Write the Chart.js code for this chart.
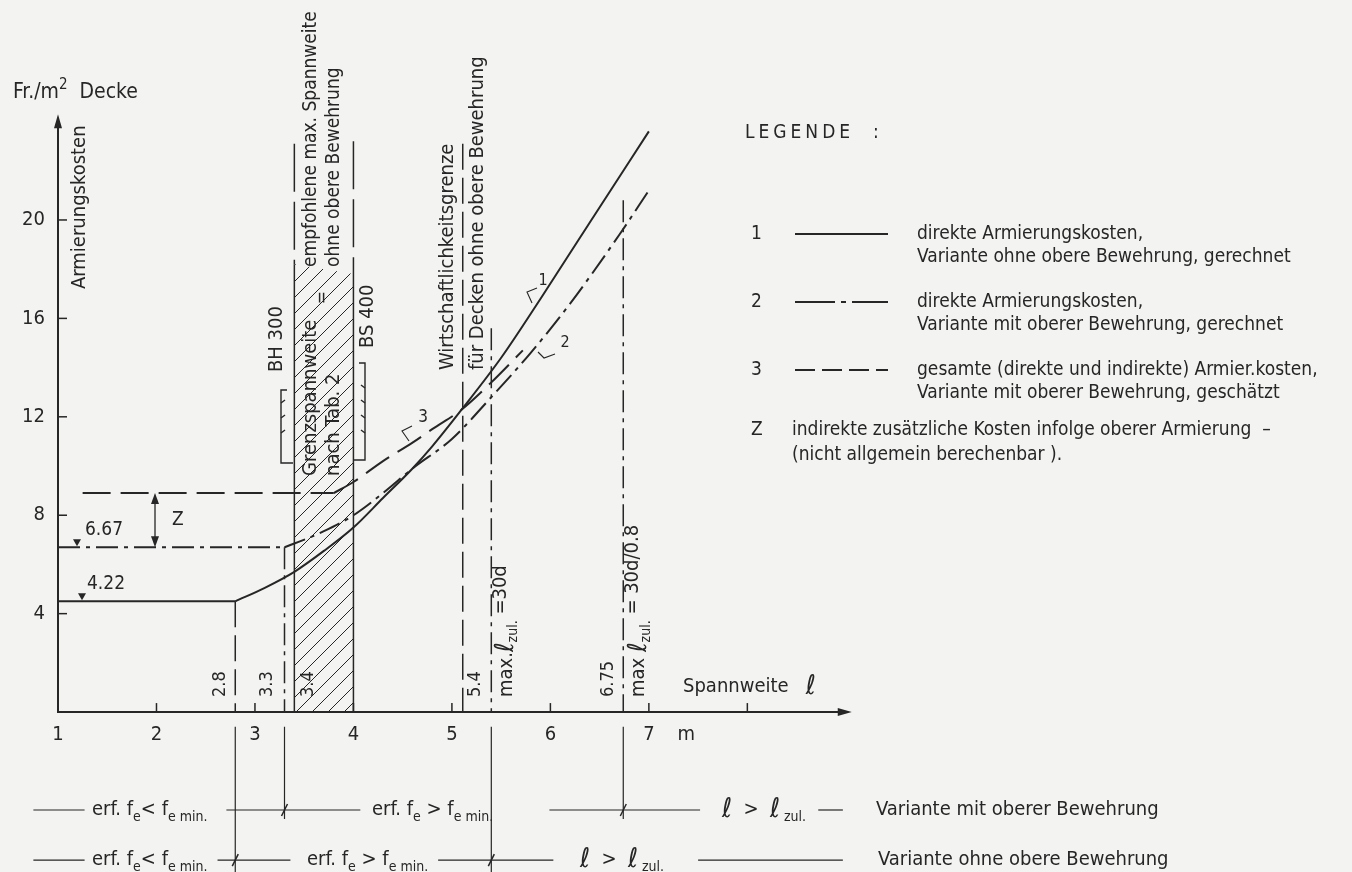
<!DOCTYPE html>
<html>
<head>
<meta charset="utf-8">
<title>Armierungskosten</title>
<script src="https://cdn.jsdelivr.net/npm/chart.js@4.4.1/dist/chart.umd.min.js"></script>
<style>
  html, body { margin: 0; padding: 0; background: #f3f3f1; }
  #wrap { width: 1352px; height: 872px; position: relative; }
</style>
</head>
<body>
<div id="wrap"><canvas id="chart"></canvas></div>
<script>
// ---- values ----
var xTicks = [1, 2, 3, 4, 5, 6, 7, 8];
var xTickLabels = ['1', '2', '3', '4', '5', '6', '7', ''];
var yTicks = [4, 8, 12, 16, 20];

// curve 1: direkte Kosten, ohne obere Bewehrung (solid)
var curve1X = [2.8, 3.1, 3.4, 3.7, 4.0, 4.3, 4.6, 4.8, 5.1, 5.5, 5.9, 6.4, 7.0];
var curve1Y = [4.5, 5.05, 5.7, 6.55, 7.5, 8.7, 9.9, 10.8, 12.3, 14.4, 16.8, 19.9, 23.6];
// curve 2: direkte Kosten, mit oberer Bewehrung (dash-dot)
var curve2X = [3.3, 3.4, 3.7, 4.0, 4.3, 4.6, 5.0, 5.4, 5.8, 6.2, 6.7, 7.0];
var curve2Y = [6.7, 6.85, 7.35, 8.0, 8.9, 9.9, 11.1, 12.8, 14.6, 16.6, 19.4, 21.2];
// curve 3: gesamte Kosten, geschaetzt (dashed)
var curve3X = [3.8, 4.0, 4.3, 4.6, 4.8, 5.1, 5.4, 5.72];
var curve3Y = [8.9, 9.35, 10.2, 10.95, 11.5, 12.3, 13.4, 14.7];

// flat parts of the three curves
var flatStart = [1, 1, 1.25];
var flatEnd = [2.8, 3.3, 3.8];
var flatLevel = [4.5, 6.7, 8.9];
var flatLabel = ['4.22', '6.67', ''];

// vertical marks on the span axis
var markX = [2.8, 3.3, 3.4, 4.0, 5.11, 5.4, 6.74];
var markTop = [4.5, 6.7, 23.1, 23.2, 23.1, 15.6, 20.8];
var markLabel = ['2.8', '3.3', '3.4', '', '5.4', '', '6.75'];
var markBelow = [-6.5, -4.35, null, null, null, -6.5, -4.35];

// hatched zone Grenzspannweite
var hatchX = [3.4, 4.0];
var hatchTop = [18.2, 17.8];

// the two rows under the axis
var rowLevel = [-3.98, -6.02];
var row1Segs = [[0.75, 1.27], [2.71, 4.07], [5.99, 7.52], [8.72, 8.97]];
var row2Segs = [[0.75, 1.27], [2.62, 3.36], [4.86, 6.03], [7.5, 8.97]];
var row1Cuts = [3.3, 6.74];
var row2Cuts = [2.8, 5.4];

var yAxisTop = 24.3;
var xAxisEnd = 9.06;

var INK = '#262626';
var FONT = '"DejaVu Sans Condensed", "Liberation Sans Narrow", "DejaVu Sans", sans-serif';
var DASH = { solid: [], dashDot: [22, 6, 4, 6], dashed: [28, 10], longDash: [26, 8], edge: [48, 10] };

function pts(xs, ys) {
  return xs.map(function (x, i) { return { x: x, y: ys[i] }; });
}

function line(data, dash, width, extra) {
  var ds = {
    data: data, showLine: true, borderColor: INK, borderWidth: width || 1.5,
    borderDash: dash, pointRadius: 0, fill: false, tension: 0
  };
  for (var k in extra) ds[k] = extra[k];
  return ds;
}

function makeHatch() {
  var s = 16;
  var cv = document.createElement('canvas');
  cv.width = s; cv.height = s;
  var g = cv.getContext('2d');
  g.strokeStyle = INK; g.lineWidth = 1;
  g.beginPath();
  g.moveTo(0, s); g.lineTo(s, 0);
  g.moveTo(-2, 2); g.lineTo(2, -2);
  g.moveTo(s - 2, s + 2); g.lineTo(s + 2, s - 2);
  g.stroke();
  return g.createPattern(cv, 'repeat');
}

// ---- datasets ----
var datasets = [];
datasets.push(line(pts(curve1X, curve1Y), DASH.solid, 2, { cubicInterpolationMode: 'monotone' }));
datasets.push(line(pts(curve2X, curve2Y), DASH.dashDot, 2, { cubicInterpolationMode: 'monotone' }));
datasets.push(line(pts(curve3X, curve3Y), DASH.dashed, 2, { cubicInterpolationMode: 'monotone' }));

var flatDash = [DASH.solid, DASH.dashDot, DASH.dashed];
flatLevel.forEach(function (lv, i) {
  datasets.push(line([{ x: flatStart[i], y: lv }, { x: flatEnd[i], y: lv }], flatDash[i], 2));
});

var markDash = [DASH.longDash, DASH.dashDot, 'edge', 'edge', DASH.longDash, DASH.dashDot, DASH.dashDot];
markX.forEach(function (mx, i) {
  if (markDash[i] === 'edge') {
    var h = hatchTop[hatchX.indexOf(mx)];
    datasets.push(line([{ x: mx, y: markTop[i] }, { x: mx, y: h }], DASH.edge, 1.5));
    datasets.push(line([{ x: mx, y: h }, { x: mx, y: 0 }], DASH.solid, 1.5));
  } else {
    datasets.push(line([{ x: mx, y: markTop[i] }, { x: mx, y: 0 }], markDash[i], 1.5));
  }
  if (markBelow[i] !== null) {
    datasets.push(line([{ x: mx, y: -0.6 }, { x: mx, y: markBelow[i] }], DASH.solid, 1.2));
  }
});

[row1Segs, row2Segs].forEach(function (segs, r) {
  segs.forEach(function (s) {
    datasets.push(line([{ x: s[0], y: rowLevel[r] }, { x: s[1], y: rowLevel[r] }], DASH.solid, 1.2));
  });
});

// hatched zone goes last so it is painted underneath
datasets.push({
  data: pts(hatchX, hatchTop), showLine: true, borderWidth: 0, pointRadius: 0,
  fill: 'origin', backgroundColor: makeHatch()
});

// ---- text helpers ----
function fontOf(p, size) {
  var s = p.z || ((p.k === 'sub' || p.k === 'sup') ? Math.round(size * 0.72) : size);
  return (p.i ? 'italic ' : '') + s + 'px ' + FONT;
}

function runs(c, parts, x, y, size, align) {
  var list = parts.map(function (p) { return typeof p === 'string' ? { t: p } : p; });
  var w = 0;
  list.forEach(function (p) { c.font = fontOf(p, size); w += c.measureText(p.t).width; });
  var cx = align === 'right' ? x - w : (align === 'center' ? x - w / 2 : x);
  c.textAlign = 'left';
  c.textBaseline = 'middle';
  list.forEach(function (p) {
    c.font = fontOf(p, size);
    var dy = 0;
    if (p.k === 'sub') dy = size * 0.36;
    if (p.k === 'sup') dy = -size * 0.38;
    if (p.k === 'up') dy = -size * 0.3;
    c.fillText(p.t, cx, y + dy);
    cx += c.measureText(p.t).width;
  });
}

function vruns(c, parts, x, y, size) {
  c.save();
  c.translate(x, y);
  c.rotate(-Math.PI / 2);
  runs(c, parts, 0, 0, size, 'left');
  c.restore();
}

function arrowhead(c, x, y, dx, dy, len, half) {
  len = len || 14; half = half || 4;
  c.beginPath();
  c.moveTo(x, y);
  c.lineTo(x - dx * len - dy * half, y - dy * len + dx * half);
  c.lineTo(x - dx * len + dy * half, y - dy * len - dx * half);
  c.closePath();
  c.fill();
}

function poly(c, p) {
  c.beginPath();
  c.moveTo(p[0][0], p[0][1]);
  for (var i = 1; i < p.length; i++) c.lineTo(p[i][0], p[i][1]);
  c.stroke();
}

var paper = {
  id: 'paper',
  beforeDraw: function (chart) {
    var c = chart.ctx;
    c.save();
    c.fillStyle = '#f3f3f1';
    c.fillRect(0, 0, chart.width, chart.height);
    c.restore();
  }
};

var drawing = {
  id: 'drawing',
  afterDatasetsDraw: function (chart) {
    var c = chart.ctx, sx = chart.scales.x, sy = chart.scales.y;
    var X = function (v) { return sx.getPixelForValue(v); };
    var Y = function (v) { return sy.getPixelForValue(v); };
    var ox = X(1), oy = Y(0);
    c.save();
    c.strokeStyle = INK;
    c.fillStyle = INK;
    c.setLineDash([]);

    // axes
    c.lineWidth = 2;
    poly(c, [[ox, Y(yAxisTop) + 10], [ox, oy], [X(xAxisEnd) - 10, oy]]);
    arrowhead(c, ox, Y(yAxisTop), 0, -1);
    arrowhead(c, X(xAxisEnd), oy, 1, 0);
    c.lineWidth = 1.5;
    xTicks.forEach(function (v, i) {
      if (v > 1) poly(c, [[X(v), oy], [X(v), oy - 9]]);
      if (xTickLabels[i]) runs(c, [xTickLabels[i]], X(v), oy + 23, 20, 'center');
    });
    runs(c, ['m'], X(7.38), oy + 23, 20, 'center');
    yTicks.forEach(function (v) {
      poly(c, [[ox, Y(v)], [ox + 9, Y(v)]]);
      runs(c, [String(v)], ox - 13, Y(v), 20, 'right');
    });

    // axis titles
    runs(c, ['Fr./m', { t: '2', k: 'sup' }, '  Decke'], 13, 93, 21, 'left');
    vruns(c, ['Armierungskosten'], 80, 289, 20);
    runs(c, ['Spannweite   ', { t: '\u2113', z: 27 }], 683, 687, 20, 'left');

    // flat level labels with small markers
    [0, 1].forEach(function (i) {
      var ly = Y(flatLevel[i]);
      var mx = i === 0 ? 82 : 77;
      runs(c, [flatLabel[i]], i === 0 ? 87 : 85, ly - 17, 19, 'left');
      c.beginPath();
      c.moveTo(mx, ly - 1); c.lineTo(mx - 4, ly - 8); c.lineTo(mx + 4, ly - 8); c.closePath(); c.fill();
    });

    // Z dimension
    var zx = X(1.985);
    c.lineWidth = 1.3;
    poly(c, [[zx, Y(flatLevel[2]) + 10], [zx, Y(flatLevel[1]) - 10]]);
    arrowhead(c, zx, Y(flatLevel[2]), 0, -1, 11, 4);
    arrowhead(c, zx, Y(flatLevel[1]), 0, 1, 11, 4);
    runs(c, ['Z'], zx + 17, (Y(flatLevel[2]) + Y(flatLevel[1])) / 2, 19, 'left');

    // labels along the vertical marks
    var labelOffset = [-15, -17, 14, 0, 13, 0, -15];
    markLabel.forEach(function (t, i) {
      if (t) vruns(c, [t], X(markX[i]) + labelOffset[i], 697, 18);
    });
    vruns(c, ['max.', { t: '\u2113', z: 26 }, { t: 'zul.', k: 'sub' }, { t: ' =30d', k: 'up' }], X(5.4) + 15, 697, 20);
    vruns(c, ['max ', { t: '\u2113', z: 26 }, { t: 'zul.', k: 'sub' }, { t: ' = 30d/0.8', k: 'up' }], X(6.74) + 16, 697, 20);

    // texts in and around the hatched zone
    vruns(c, ['Grenzspannweite'], 311, 476, 20);
    vruns(c, ['nach Tab. 2'], 334, 476, 20);
    vruns(c, ['='], 323, 304, 17);
    vruns(c, ['empfohlene max. Spannweite'], 311, 267, 19);
    vruns(c, ['ohne obere Bewehrung'], 334, 267, 19);
    vruns(c, ['BH 300'], 277, 372, 20);
    vruns(c, ['BS 400'], 368, 348, 20);
    vruns(c, ['Wirtschaftlichkeitsgrenze'], 448, 370, 20);
    vruns(c, ['f\u00fcr Decken ohne obere Bewehrung'], 478, 370, 20);

    // BH 300 / BS 400 brackets
    c.lineWidth = 1.4;
    poly(c, [[287, 390], [281, 390], [281, 463], [293, 463]]);
    [403, 418, 433].forEach(function (ty) { poly(c, [[281, ty], [285, ty - 3]]); });
    poly(c, [[359, 363], [365, 363], [365, 460], [353, 460]]);
    [388, 403, 418, 433].forEach(function (ty) { poly(c, [[365, ty], [361, ty - 3]]); });

    // curve callouts
    c.lineWidth = 1.1;
    poly(c, [[532, 303], [527, 292], [537, 288]]);
    runs(c, ['1'], 543, 281, 16, 'center');
    poly(c, [[538, 352], [544, 358], [555, 354]]);
    runs(c, ['2'], 565, 343, 16, 'center');
    poly(c, [[409, 441], [402, 431], [412, 426]]);
    runs(c, ['3'], 423, 418, 17, 'center');

    // rows below the axis
    var r1 = Y(rowLevel[0]), r2 = Y(rowLevel[1]);
    var erfLess = ['erf. f', { t: 'e', k: 'sub' }, '< f', { t: 'e min.', k: 'sub' }];
    var erfMore = ['erf. f', { t: 'e', k: 'sub' }, ' > f', { t: 'e min.', k: 'sub' }];
    var lOver = [{ t: '\u2113', z: 27 }, '  >  ', { t: '\u2113', z: 27 }, { t: ' zul.', k: 'sub' }];
    runs(c, erfLess, 92, r1, 20, 'left');
    runs(c, erfMore, 372, r1, 20, 'left');
    runs(c, lOver, 722, r1, 20, 'left');
    runs(c, ['Variante mit oberer Bewehrung'], 876, r1, 20, 'left');
    runs(c, erfLess, 92, r2, 20, 'left');
    runs(c, erfMore, 307, r2, 20, 'left');
    runs(c, lOver, 580, r2, 20, 'left');
    runs(c, ['Variante ohne obere Bewehrung'], 878, r2, 20, 'left');
    c.lineWidth = 1.5;
    row1Cuts.forEach(function (v) { poly(c, [[X(v) - 3, r1 + 6], [X(v) + 3, r1 - 6]]); });
    row2Cuts.forEach(function (v) { poly(c, [[X(v) - 3, r2 + 6], [X(v) + 3, r2 - 6]]); });

    // legend
    c.letterSpacing = '4px';
    runs(c, ['LEGENDE  :'], 745, 133, 19, 'left');
    c.letterSpacing = '0px';
    var legY = [234, 302, 370];
    var legDash = [DASH.solid, [40, 6, 5, 6], [20, 7]];
    var legText = [
      ['direkte Armierungskosten,', 'Variante ohne obere Bewehrung, gerechnet'],
      ['direkte Armierungskosten,', 'Variante mit oberer Bewehrung, gerechnet'],
      ['gesamte (direkte und indirekte) Armier.kosten,', 'Variante mit oberer Bewehrung, gesch\u00e4tzt']
    ];
    legY.forEach(function (ly, i) {
      runs(c, [String(i + 1)], 751, ly, 19, 'left');
      c.lineWidth = 1.8;
      c.setLineDash(legDash[i]);
      poly(c, [[795, ly], [888, ly]]);
      c.setLineDash([]);
      runs(c, [legText[i][0]], 917, ly, 19, 'left');
      runs(c, [legText[i][1]], 917, ly + 23, 19, 'left');
    });
    runs(c, ['Z'], 751, 430, 19, 'left');
    runs(c, ['indirekte zus\u00e4tzliche Kosten infolge oberer Armierung  \u2013'], 792, 430, 19, 'left');
    runs(c, ['(nicht allgemein berechenbar ).'], 792, 455, 19, 'left');

    c.restore();
  }
};

new Chart(document.getElementById('chart'), {
  type: 'scatter',
  data: { datasets: datasets },
  options: {
    responsive: true,
    maintainAspectRatio: false,
    animation: false,
    events: [],
    layout: { padding: 0 },
    scales: {
      x: { type: 'linear', min: 0.411, max: 14.14, display: false },
      y: { type: 'linear', min: -6.5, max: 28.94, display: false }
    },
    plugins: { legend: { display: false }, tooltip: { enabled: false } }
  },
  plugins: [paper, drawing]
});
</script>
</body>
</html>
